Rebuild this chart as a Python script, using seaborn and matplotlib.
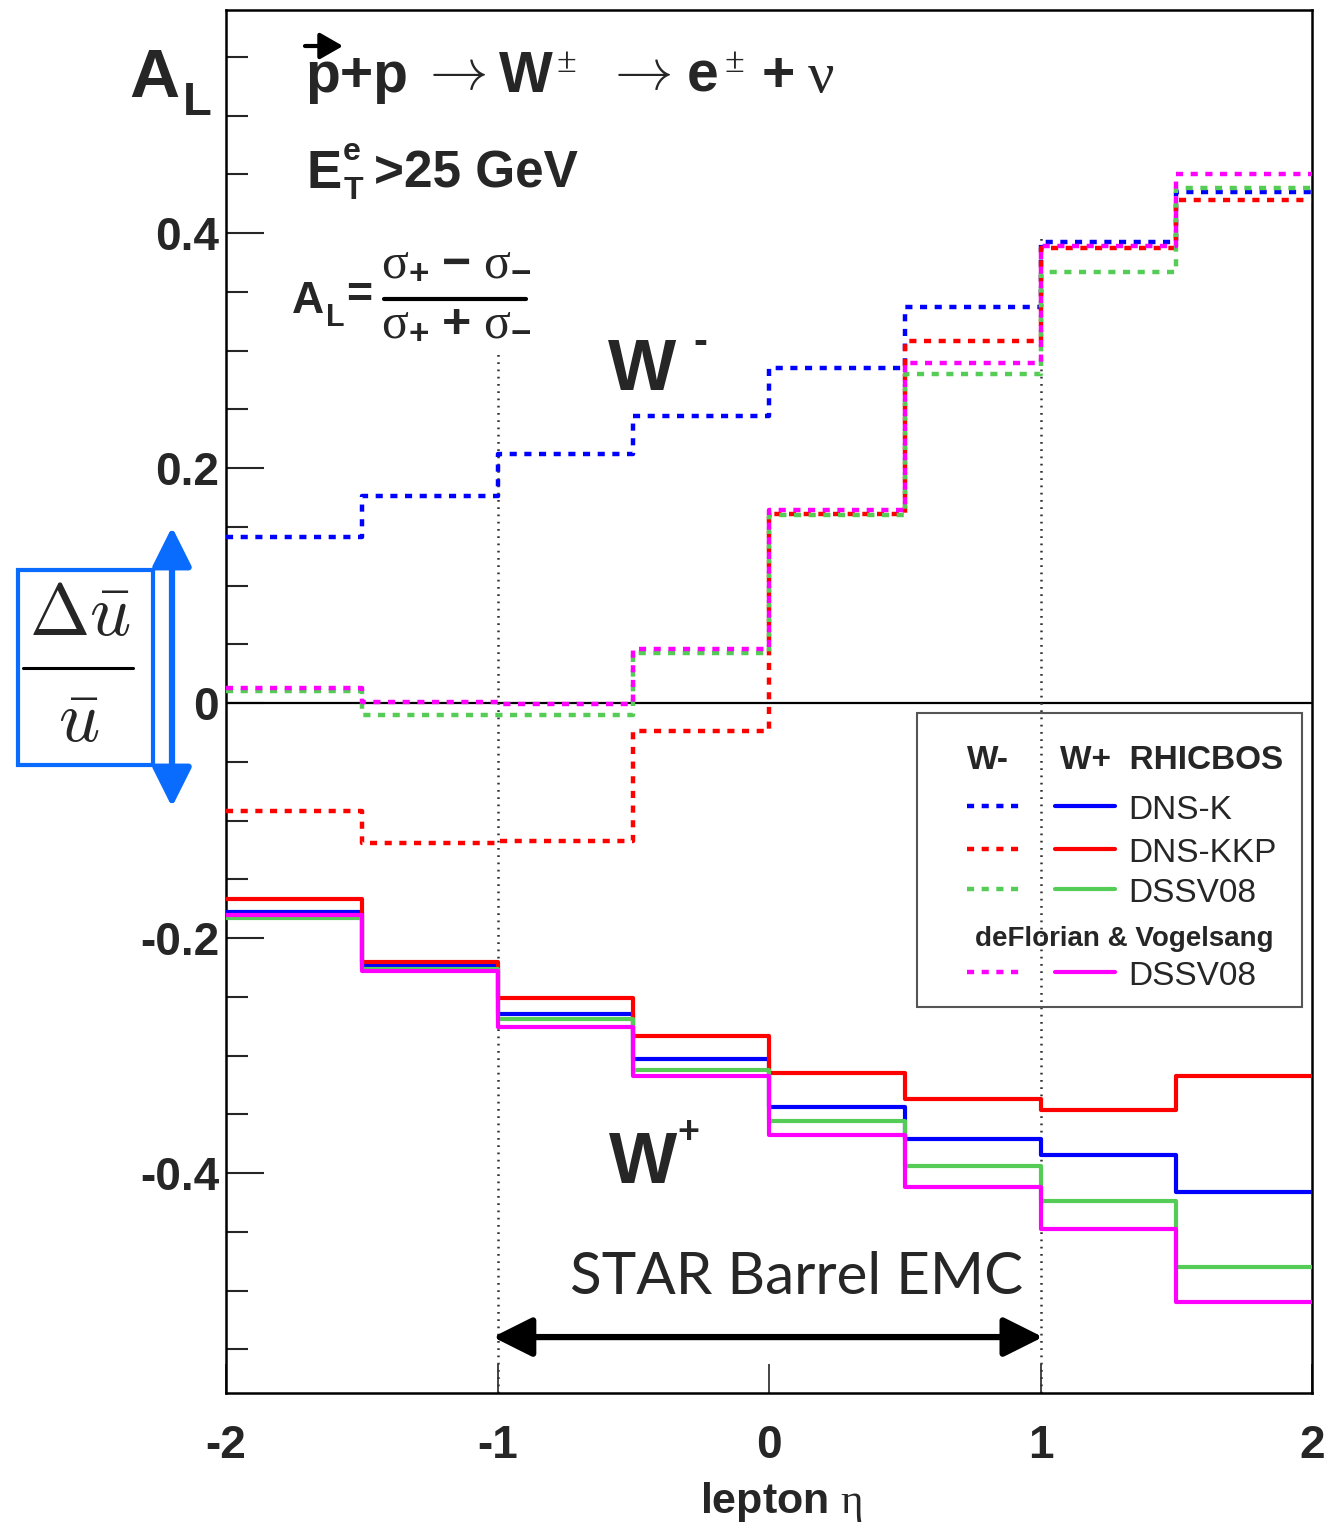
import numpy as np
import pandas as pd
import seaborn as sns
import matplotlib.pyplot as plt
from matplotlib.patches import Rectangle
from matplotlib.lines import Line2D
from matplotlib.ticker import MultipleLocator

# bin edges in lepton eta
eta_edges = [-2.0, -1.5, -1.0, -0.5, 0.0, 0.5, 1.0, 1.5, 2.0]

# W- predictions (dashed)
wm_dnsk = [0.141, 0.176, 0.212, 0.244, 0.285, 0.337, 0.392, 0.435]
wm_dnskkp = [-0.092, -0.119, -0.117, -0.024, 0.161, 0.308, 0.387, 0.428]
wm_dssv = [0.010, -0.010, -0.010, 0.043, 0.160, 0.280, 0.367, 0.438]
wm_dv = [0.013, 0.001, -0.001, 0.046, 0.164, 0.289, 0.389, 0.450]

# W+ predictions (solid)
wp_dnsk = [-0.178, -0.224, -0.265, -0.303, -0.344, -0.371, -0.385, -0.416]
wp_dnskkp = [-0.167, -0.220, -0.251, -0.283, -0.315, -0.337, -0.346, -0.317]
wp_dssv = [-0.183, -0.226, -0.269, -0.312, -0.356, -0.394, -0.424, -0.480]
wp_dv = [-0.180, -0.228, -0.276, -0.317, -0.368, -0.412, -0.448, -0.510]

pdf_names = ["DNS-K", "DNS-KKP", "DSSV08", "DSSV08"]
pdf_colors = ["#0000ff", "#ff0000", "#55cc55", "#ff00ff"]

xtick_vals = [-2, -1, 0, 1, 2]
ytick_vals = [-0.4, -0.2, 0, 0.2, 0.4]
ytick_labels = ["-0.4", "-0.2", "0", "0.2", "0.4"]

sns.set_theme(style="white")
plt.rcParams['font.family'] = ['Liberation Sans', 'DejaVu Sans']
plt.rcParams['mathtext.fontset'] = 'custom'
plt.rcParams['mathtext.rm'] = 'Liberation Serif'
plt.rcParams['mathtext.it'] = 'Liberation Serif:italic'
plt.rcParams['mathtext.bf'] = 'Liberation Sans:bold'
plt.rcParams['mathtext.default'] = 'rm'

W, H = 1340, 1537
fig = plt.figure(figsize=(W / 100, H / 100), dpi=100)
ax = fig.add_axes([226 / W, 1 - 1393 / H, 1086 / W, 1383 / H])


def ftext(px, py, s, **kw):
    return fig.text(px / W, 1 - py / H, s, **kw)


def fline(x0, x1, py, **kw):
    fig.add_artist(Line2D([x0 / W, x1 / W], [1 - py / H, 1 - py / H],
                          transform=fig.transFigure, **kw))


def farrow(x0, y0, x1, y1, style, color, lw):
    ax.annotate("", xy=(x1 / W, 1 - y1 / H), xytext=(x0 / W, 1 - y0 / H),
                xycoords="figure fraction", textcoords="figure fraction", annotation_clip=False,
                arrowprops=dict(arrowstyle=style, color=color, lw=lw,
                                shrinkA=0, shrinkB=0, mutation_scale=20))


def apos(px, py):
    return ((px - 226) / 1086, (1393 - py) / 1383)


dash = (0, (1.6, 1.7))

# W- dashed, W+ solid step lines
for vals, col in zip([wm_dnsk, wm_dnskkp, wm_dssv, wm_dv], pdf_colors):
    df = pd.DataFrame({"eta": eta_edges, "AL": vals + [vals[-1]]})
    sns.lineplot(data=df, x="eta", y="AL", ax=ax, color=col, lw=3.2, linestyle=dash,
                 drawstyle="steps-post", errorbar=None, zorder=3)

for vals, col in zip([wp_dnsk, wp_dnskkp, wp_dssv, wp_dv], pdf_colors):
    df = pd.DataFrame({"eta": eta_edges, "AL": vals + [vals[-1]]})
    sns.lineplot(data=df, x="eta", y="AL", ax=ax, color=col, lw=3.0,
                 drawstyle="steps-post", errorbar=None, zorder=3)

ax.axhline(0, color="black", lw=1.6, zorder=1)
ylo, yhi = -0.5872, 0.5898
ax.plot([-1, -1], [ylo, 0.299], color="#333333", lw=1.8, ls=(0, (0.7, 2.2)), zorder=2)
ax.plot([1, 1], [ylo, 0.40], color="#333333", lw=1.8, ls=(0, (0.7, 2.2)), zorder=2)

ax.set_xlim(-2, 2)
ax.set_ylim(ylo, yhi)
ax.set_xticks(xtick_vals)
ax.set_xticklabels([str(v) for v in xtick_vals], fontsize=33, fontweight="bold")
ax.set_yticks(ytick_vals)
ax.set_yticklabels(ytick_labels, fontsize=33, fontweight="bold")
ax.yaxis.set_minor_locator(MultipleLocator(0.05))
ax.tick_params(axis="y", which="major", direction="in", length=27, width=1.5, pad=5, left=True)
ax.tick_params(axis="y", which="minor", direction="in", length=16, width=1.5, left=True)
ax.tick_params(axis="x", which="major", direction="in", length=21, width=1.2, pad=22, bottom=True)
ax.set_xlabel("")
ax.set_ylabel("")
for sp in ax.spines.values():
    sp.set_color("black")
    sp.set_linewidth(1.8)

# y axis title
ftext(129, 97, "A", fontsize=50, fontweight="bold", va="baseline")
ftext(183, 115, "L", fontsize=34, fontweight="bold", va="baseline")

# reaction line
ftext(305, 92, "p+p", fontsize=41, fontweight="bold", va="baseline")
farrow(305, 46, 343, 46, "-|>,head_length=0.7,head_width=0.4", "black", 3)
ftext(453, 75, r'$\rightarrow$', math_fontfamily="cm", fontsize=42, ha="center", va="center")
ftext(499, 92, "W", fontsize=41, fontweight="bold", va="baseline")
ftext(566, 63, "\u00b1", family="Liberation Serif", fontsize=26, ha="center", va="center")
ftext(638, 75, r'$\rightarrow$', math_fontfamily="cm", fontsize=42, ha="center", va="center")
ftext(687, 92, "e", fontsize=41, fontweight="bold", va="baseline")
ftext(734, 63, "\u00b1", family="Liberation Serif", fontsize=26, ha="center", va="center")
ftext(778, 92, "+", fontsize=41, fontweight="bold", ha="center", va="baseline")
ftext(808, 92, "\u03bd", family="Liberation Serif", fontsize=42, va="baseline")

# E_T cut
ftext(307, 188, "E", fontsize=38, fontweight="bold", va="baseline")
ftext(352, 152, "e", fontsize=23, fontweight="bold", ha="center", va="center")
ftext(353, 191, "T", fontsize=23, fontweight="bold", ha="center", va="center")
ftext(374, 188, ">25 GeV", fontsize=37, fontweight="bold", va="baseline")

# asymmetry definition
ftext(292, 313, "A", fontsize=32, fontweight="bold", va="baseline")
ftext(326, 326, "L", fontsize=22, fontweight="bold", va="baseline")
ftext(359, 296, "=", fontsize=32, fontweight="bold", ha="center", va="center")
ftext(456, 275, r'$\sigma_{\mathbf{+}}\ \mathbf{-}\ \sigma_{\mathbf{-}}$', fontsize=36, ha="center", va="baseline")
fline(384, 526, 299, color="black", lw=3)
ftext(456, 335, r'$\sigma_{\mathbf{+}}\ \mathbf{+}\ \sigma_{\mathbf{-}}$', fontsize=36, ha="center", va="baseline")

# boson labels
ftext(608, 390, "W", fontsize=52, fontweight="bold", va="baseline")
ftext(700, 343, "-", fontsize=30, fontweight="bold", ha="center", va="center")
ftext(609, 1183, "W", fontsize=52, fontweight="bold", va="baseline")
ftext(688, 1133, "+", fontsize=27, fontweight="bold", ha="center", va="center")
ftext(797, 1294, "STAR Barrel EMC", fontsize=42, family="Lato", ha="center", va="baseline")
ftext(782, 1513, r'lepton $\eta$', fontsize=31, fontweight="bold", ha="center", va="baseline")

# legend
ax.add_patch(Rectangle(apos(917, 1007), 385 / 1086, 294 / 1383, transform=ax.transAxes,
                       fill=False, ec="#555555", lw=1.5, zorder=5, clip_on=False))
ftext(967, 769, "W-", fontsize=24, fontweight="bold", va="baseline")
ftext(1060, 769, "W+  RHICBOS", fontsize=24, fontweight="bold", va="baseline")
row_y = [806, 849, 889, 972]
for i, (name, col) in enumerate(zip(pdf_names, pdf_colors)):
    y = row_y[i]
    x0, y0 = apos(967, y)
    x1, _ = apos(1022, y)
    ax.plot([x0, x1], [y0, y0], transform=ax.transAxes, color=col, lw=3.2, ls=dash, clip_on=False)
    x0, _ = apos(1055, y)
    x1, _ = apos(1115, y)
    ax.plot([x0, x1], [y0, y0], transform=ax.transAxes, color=col, lw=3.0, clip_on=False)
    ftext(1128, y + 13, name, fontsize=24, va="baseline")
ftext(975, 946, "deFlorian & Vogelsang", fontsize=20, fontweight="bold", va="baseline")

# black double arrow for barrel coverage
ax.annotate("", xy=(-1.017, -0.5396), xytext=(1.009, -0.5396), xycoords="data",
            arrowprops=dict(arrowstyle="<|-|>,head_length=1.2,head_width=0.6", color="black",
                            lw=4.5, shrinkA=0, shrinkB=0, mutation_scale=20))

# blue annotation box with delta ubar / ubar
blue = "#0a6cff"
fig.add_artist(Rectangle((18 / W, 1 - 765 / H), 135 / W, 195 / H, transform=fig.transFigure,
                         fill=False, ec=blue, lw=3))
ftext(80, 635, r'$\Delta\bar{\mathit{u}}$', math_fontfamily="cm", fontsize=52, ha="center", va="baseline")
fline(23, 133, 668, color="black", lw=2.2)
ftext(79, 742, r'$\bar{\mathit{u}}$', math_fontfamily="cm", fontsize=52, ha="center", va="baseline")
farrow(172, 807, 172, 527, "<|-|>,head_length=1.2,head_width=0.6", blue, 4.5)

fig.savefig("out.png", dpi=100)
